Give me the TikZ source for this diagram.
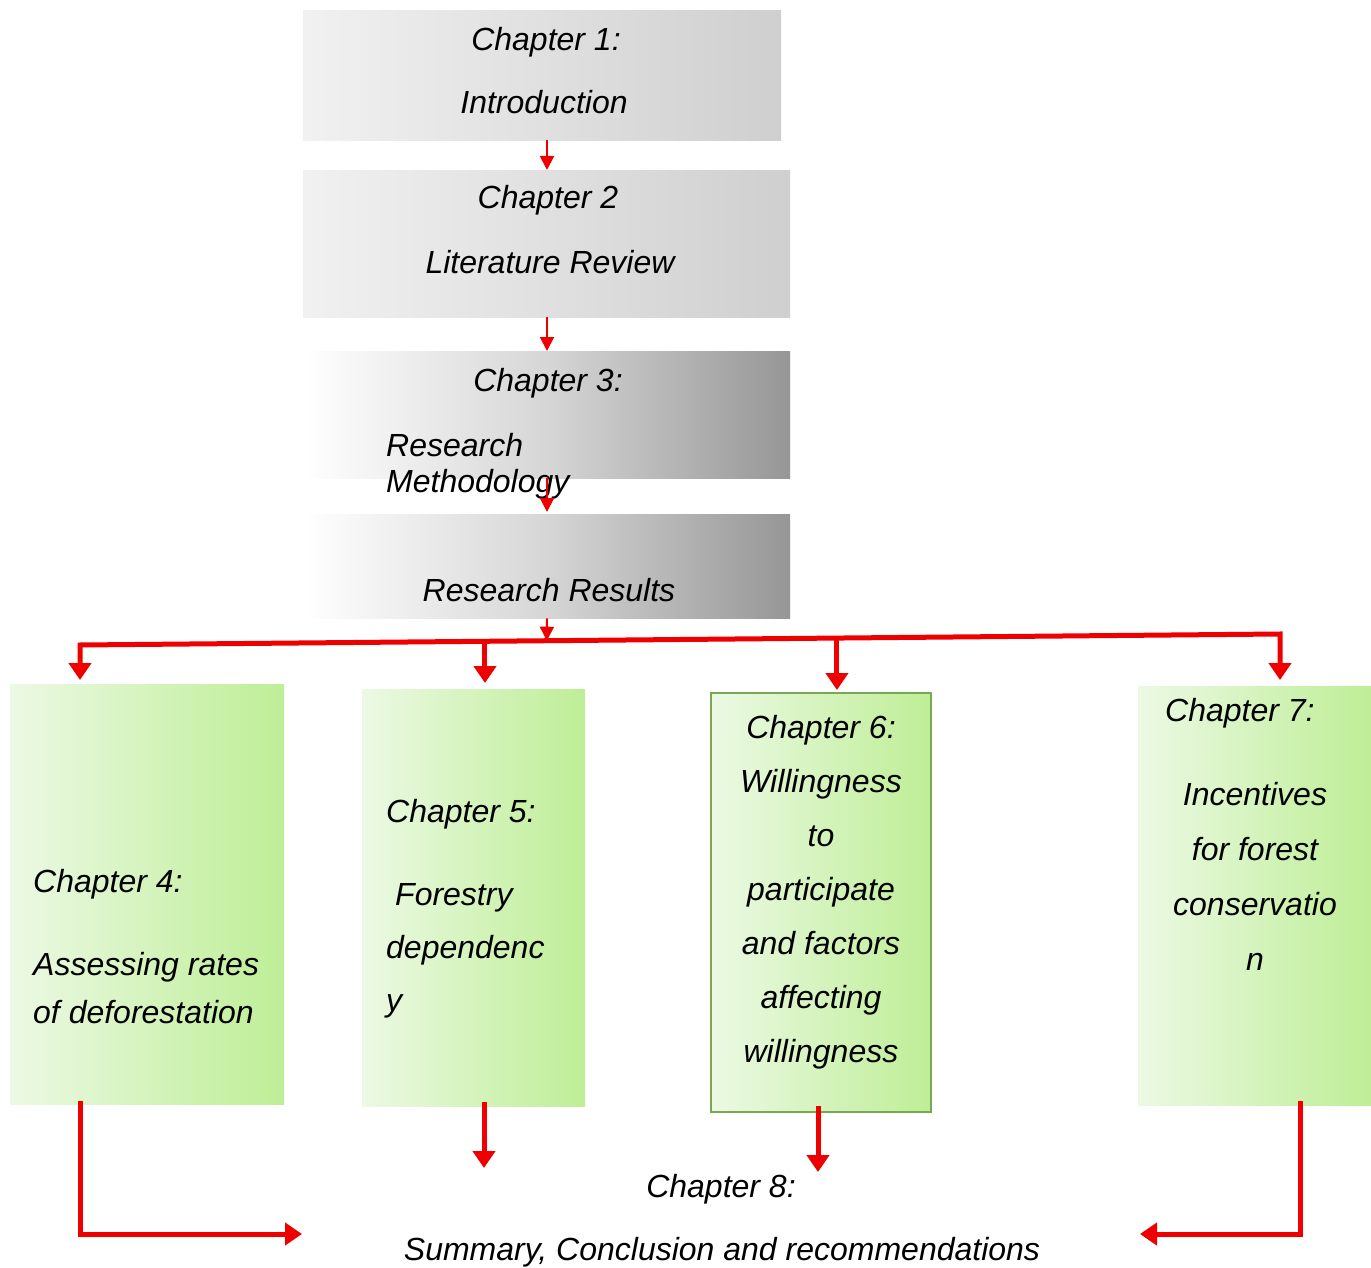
\documentclass[tikz,border=0pt]{standalone}
\usepackage{fontspec}
\setmainfont{Liberation Sans}
\usetikzlibrary{arrows.meta,calc}

\definecolor{arrowred}{RGB}{238,0,0}
\definecolor{greyL}{RGB}{241,241,241}
\definecolor{greyR}{RGB}{208,207,207}
\definecolor{darkM}{RGB}{214,214,214}
\definecolor{darkR}{RGB}{150,150,150}
\definecolor{greenL}{RGB}{236,249,228}
\definecolor{greenR}{RGB}{190,238,150}
\definecolor{greenEdge}{RGB}{120,168,82}

\tikzset{
  panel/.style={draw=none, inner sep=0pt, anchor=north west},
  lightpanel/.style={panel, left color=greyL, right color=greyR},
  darkpanel/.style={panel, left color=white, right color=darkR, middle color=darkM},
  greenpanel/.style={panel, left color=greenL, right color=greenR},
  txt/.style={inner sep=0pt, text=black, anchor=base},
  txtL/.style={inner sep=0pt, text=black, anchor=base west},
  thinarrow/.style={draw=arrowred, line width=2pt, -{Triangle[length=14pt,width=14pt]}},
  thickarrow/.style={draw=arrowred, line width=5pt, line join=miter, -{Triangle[length=17pt,width=22pt]}},
}

\begin{document}
\begin{tikzpicture}[x=1pt,y=-1pt, font=\fontsize{32}{38}\selectfont\itshape]
\useasboundingbox (0,0) rectangle (1371,1268);

% upper column of grey chapters
\node[lightpanel, minimum width=478, minimum height=130] (b1) at (303,10) {};
\node[lightpanel, minimum width=487, minimum height=147] (b2) at (303,170) {};
\node[darkpanel, minimum width=487, minimum height=127] (b3) at (303,351) {};
\node[darkpanel, minimum width=487, minimum height=104] (b4) at (303,514) {};

\node[txt] (t1a) at (546,51) {Chapter 1:};
\node[txt] (t1b) at (544,114) {Introduction};
\node[txt] (t2a) at (548,209) {Chapter 2};
\node[txt] (t2b) at (550,273) {Literature Review};
\node[txt] (t3a) at (548,391) {Chapter 3:};
\node[txtL] (t3b) at (386,456) {Research};
\node[txtL] (t3c) at (386,492) {Methodology};
\node[txt] (t4a) at (549,601) {Research Results};

% green result chapters
\node[greenpanel, minimum width=274, minimum height=420] (c4) at (10,684) {};
\node[greenpanel, minimum width=223, minimum height=417] (c5) at (362,689) {};
\node[greenpanel, draw=greenEdge, line width=2pt, minimum width=220, minimum height=419] (c6) at (710,692) {};
\node[greenpanel, minimum width=233, minimum height=419] (c7) at (1138,686) {};

\node[txtL] (t4x) at (33,892) {Chapter 4:};
\node[txtL] (t4y) at (33,975) {Assessing rates};
\node[txtL] (t4z) at (33,1023) {of deforestation};

\node[txtL] (t5a) at (386,822) {Chapter 5:};
\node[txtL] (t5b) at (395,905) {Forestry};
\node[txtL] (t5c) at (386,958) {dependenc};
\node[txtL] (t5d) at (386,1011) {y};

\node[txt] (t6a) at (821,738) {Chapter 6:};
\node[txt] (t6b) at (821,792) {Willingness};
\node[txt] (t6c) at (821,846) {to};
\node[txt] (t6d) at (821,900) {participate};
\node[txt] (t6e) at (821,954) {and factors};
\node[txt] (t6f) at (821,1008) {affecting};
\node[txt] (t6g) at (821,1062) {willingness};

\node[txtL] (t7a) at (1165,721) {Chapter 7:};
\node[txt] (t7b) at (1255,805) {Incentives};
\node[txt] (t7c) at (1255,860) {for forest};
\node[txt] (t7d) at (1255,915) {conservatio};
\node[txt] (t7e) at (1255,970) {n};

% closing chapter
\node[txt] (t8a) at (721,1197) {Chapter 8:};
\node[txt] (t8b) at (722,1260) {Summary, Conclusion and recommendations};

% connectors down the grey column
\coordinate (axis) at (547,0);
\draw[thinarrow] (b1.south -| axis) -- (b2.north -| axis);
\draw[thinarrow] (b2.south -| axis) -- (b3.north -| axis);
\draw[thinarrow] (b3.south -| axis) -- ([yshift=2]b4.north -| axis);

% distribution bus
\coordinate (busL) at (80,645);
\coordinate (busR) at (1280,634);
\coordinate (j3) at ($(busL)!0.389!(busR)$);
\coordinate (j5) at ($(busL)!0.3375!(busR)$);
\coordinate (j6) at ($(busL)!0.6308!(busR)$);
\draw[thinarrow] (b4.south -| axis) -- (j3);
\draw[thickarrow, {Triangle[length=17pt,width=22pt]}-{Triangle[length=17pt,width=22pt]}]
  ([yshift=4]c4.north -| busL) -- (busL) -- (busR) -- ([yshift=6]c7.north -| busR);
\draw[thickarrow] (j5) -- ([yshift=6]c5.north -| j5);
\draw[thickarrow] (j6) -- ([yshift=2]c6.north -| j6);

% connectors into the closing chapter
\coordinate (e4) at (302,1234);
\coordinate (e5) at (484,1168);
\coordinate (e6) at (818,1172);
\coordinate (e7) at (1140,1234);
\draw[thickarrow] ([yshift=3]c4.south -| busL) -- (busL |- e4) -- (e4);
\draw[thickarrow] ([yshift=4]c5.south -| e5) -- (e5);
\draw[thickarrow] ([yshift=7]c6.south -| e6) -- (e6);
\draw[thickarrow] ([yshift=4]c7.south -| 1300,0) -- (1300,1234) -- (e7);
\end{tikzpicture}
\end{document}
